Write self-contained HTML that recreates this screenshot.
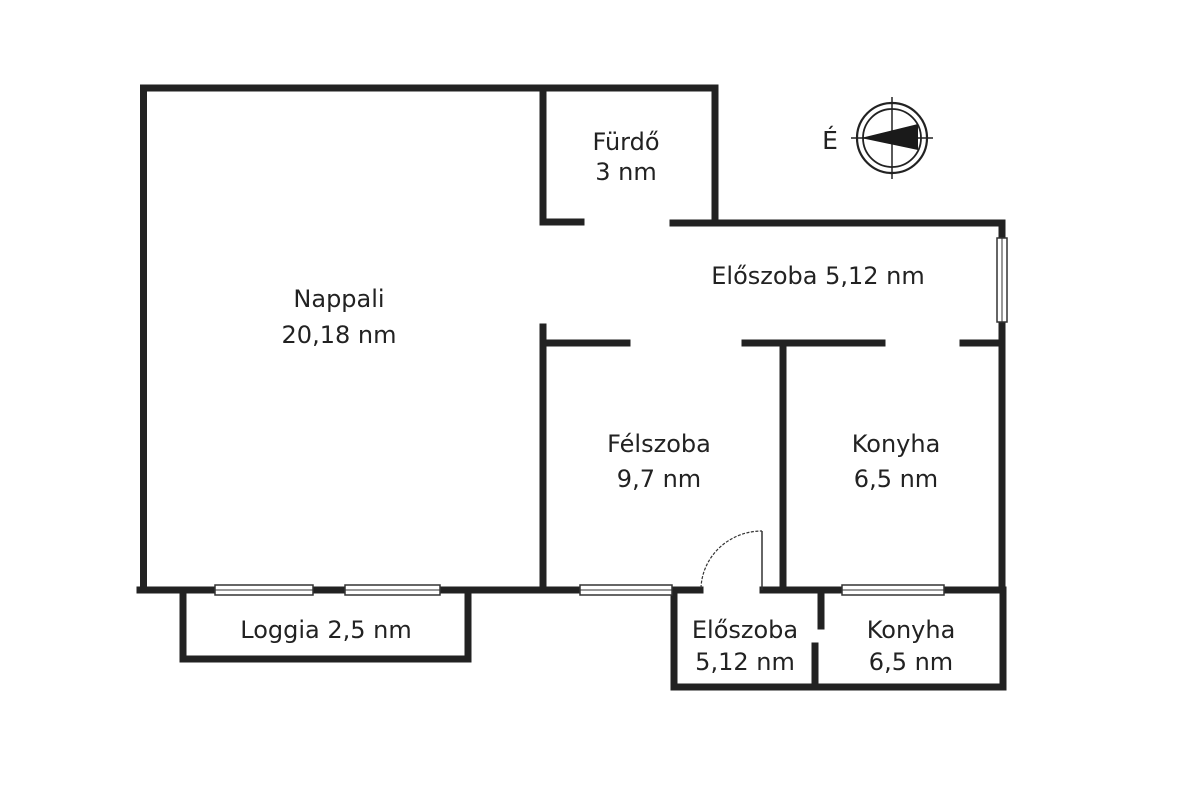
<!DOCTYPE html>
<html><head><meta charset="utf-8"><style>
html,body{margin:0;padding:0;background:#fff;}
svg{display:block;}
text{font-family:"DejaVu Sans","Liberation Sans",sans-serif;fill:#222;font-size:24px;text-anchor:middle;}
</style></head><body>
<svg width="1200" height="799" viewBox="0 0 1200 799">
<g stroke="#222" stroke-width="7" fill="none" stroke-linecap="square">
<path d="M143.5 88 H715 V222"/>
<path d="M143.5 88 V590"/>
<path d="M543 88 V222 H581"/>
<path d="M673 223 H1002 V590"/>
<path d="M543 327 V590"/>
<path d="M543 343 H627"/>
<path d="M745 343 H882"/>
<path d="M963 343 H1002"/>
<path d="M783 343 V590"/>
<path d="M140 590 H700"/>
<path d="M763 590 H1002"/>
<path d="M183 590 V659 H468 V590"/>
<path d="M674 590 V687 H1003 V590"/>
<path d="M821 592 V626"/>
<path d="M815 646 V687"/>
</g>
<g fill="#fff" stroke="#333" stroke-width="1.5">
<rect x="215" y="585" width="98" height="10"/>
<rect x="345" y="585" width="95" height="10"/>
<rect x="580" y="585" width="92" height="10"/>
<rect x="842" y="585" width="102" height="10"/>
<rect x="997" y="238" width="10" height="84"/>
</g>
<g stroke="#333" stroke-width="1" fill="none">
<line x1="215" y1="590" x2="313" y2="590"/>
<line x1="345" y1="590" x2="440" y2="590"/>
<line x1="580" y1="590" x2="672" y2="590"/>
<line x1="842" y1="590" x2="944" y2="590"/>
<line x1="1002" y1="238" x2="1002" y2="322"/>
</g>
<line x1="762" y1="590" x2="762" y2="531" stroke="#333" stroke-width="1.5"/>
<path d="M701 588 A61 59 0 0 1 762 531" stroke="#333" stroke-width="1.2" fill="none" stroke-dasharray="3 1.5"/>
<g stroke="#222" fill="none">
<circle cx="892" cy="138" r="35" stroke-width="2.2"/>
<circle cx="892" cy="138" r="29" stroke-width="1.8"/>
<line x1="892" y1="97" x2="892" y2="179" stroke-width="1.5"/>
<line x1="851" y1="138" x2="933" y2="138" stroke-width="1.5"/>
</g>
<polygon points="861,138 918,124 918,150" fill="#1a1a1a"/>
<text x="830" y="149" style="font-size:25px">É</text>
<text x="339" y="307">Nappali</text>
<text x="339" y="343">20,18 nm</text>
<text x="626" y="150">Fürdő</text>
<text x="626" y="180">3 nm</text>
<text x="818" y="284">Előszoba 5,12 nm</text>
<text x="659" y="452">Félszoba</text>
<text x="659" y="487">9,7 nm</text>
<text x="896" y="452">Konyha</text>
<text x="896" y="487">6,5 nm</text>
<text x="326" y="638">Loggia 2,5 nm</text>
<text x="745" y="638">Előszoba</text>
<text x="745" y="670">5,12 nm</text>
<text x="911" y="638">Konyha</text>
<text x="911" y="670">6,5 nm</text>
</svg>
</body></html>
